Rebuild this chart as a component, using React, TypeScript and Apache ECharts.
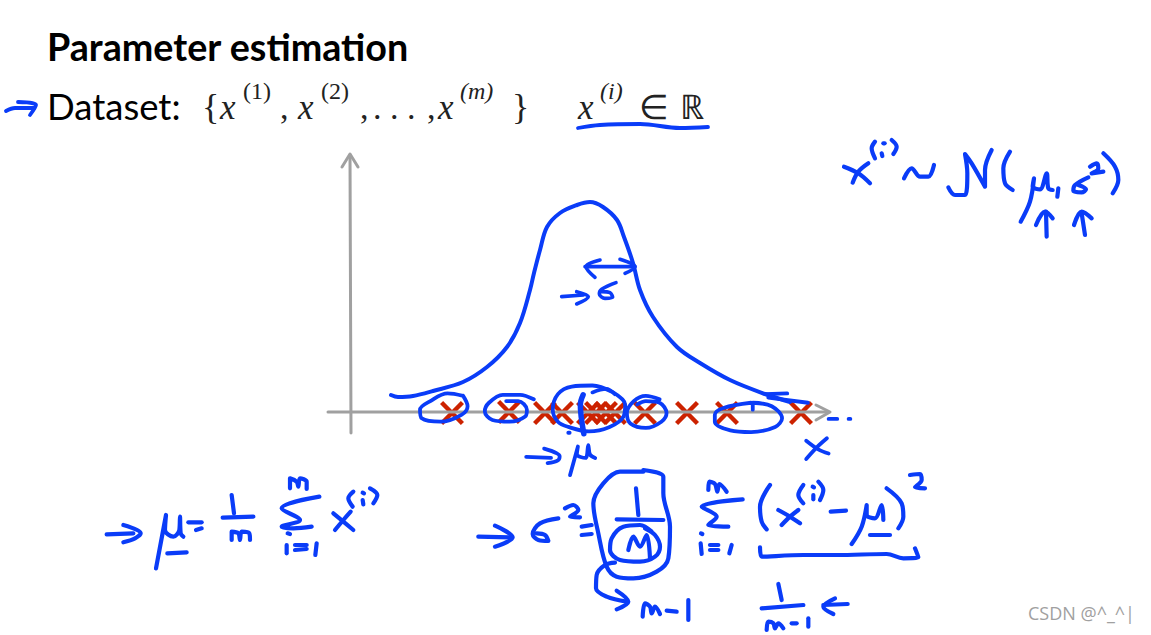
import React, { useEffect, useRef } from "react";
import * as echarts from "echarts";

const W = 1151;
const H = 635;
const BLUE = "#0a3cf8";
const GREY = "#a0a0a0";
const RED = "#cc2200";

const crossX = [452, 509, 545, 562, 588, 596, 606, 615, 645, 687, 727, 801];
const crossY = [413, 412, 413, 413, 413, 413, 413, 413, 413, 413, 413, 413];

type Flat = number[];
const map = (ox: number, oy: number, s: number, groups: Flat[]) =>
  groups.map((g) => {
    const pts: number[][] = [];
    for (let i = 0; i < g.length; i += 2) pts.push([ox + g[i] / s, oy + g[i + 1] / s]);
    return pts;
  });

const bellCurve: number[][] = [
  [391, 395], [398, 397], [413, 396], [433, 391], [463, 382], [487, 367], [507, 347], [520, 323],
  [530, 290], [534, 273], [540, 250], [547, 227], [560, 213], [577, 205], [590, 202], [603, 207],
  [617, 220], [624, 237], [633, 263], [640, 290], [653, 317], [677, 347], [700, 363], [730, 380],
  [765, 394], [790, 402],
];

const axisStrokes: number[][][] = [
  [[351, 433], [350, 155]],
  [[342, 167], [350, 154], [358, 167]],
  [[328, 412], [828, 412]],
  [[816, 405], [830, 412], [816, 420]],
];

const axisMarks = map(320, 370, 2.9, [
  [415, 75, 370, 68, 320, 90, 290, 115, 295, 140, 350, 150, 410, 130, 428, 105, 415, 75],
  [620, 85, 580, 72, 530, 72, 490, 95, 478, 120, 500, 145, 550, 150, 595, 135, 600, 115, 575, 90, 540, 90],
  [850, 65, 790, 45, 730, 48, 690, 70, 675, 115, 690, 150, 720, 165, 780, 178, 840, 165, 880, 135, 885, 100, 850, 65],
  [790, 65, 830, 55, 855, 70],
  [985, 85, 945, 75, 910, 90, 890, 125, 900, 155, 945, 168, 990, 150, 1005, 125, 985, 95, 945, 90, 920, 100],
  [1255, 115, 1255, 95, 1310, 105, 1340, 140, 1320, 165, 1250, 180, 1190, 175, 1145, 150, 1145, 130, 1170, 110, 1250, 95],
  [1290, 70, 1355, 68],
  [1300, 80, 1415, 95],
  [1475, 142, 1500, 142],
  [1533, 142, 1538, 142],
  [720, 182, 724, 182],
  [1410, 205, 1445, 230, 1475, 242],
  [1470, 198, 1440, 225, 1410, 258],
  [598, 252, 670, 255],
  [650, 228, 695, 250, 690, 262, 660, 270],
  [725, 305, 748, 222, 745, 245, 770, 255, 778, 218, 783, 245, 798, 255],
]);

const muBar = map(320, 370, 2.9, [[763, 72, 755, 100, 765, 185]]);

const sigmaMarks = map(330, 150, 3, [
  [765, 350, 915, 350],
  [810, 330, 768, 350, 795, 382],
  [870, 328, 915, 350, 885, 370],
  [695, 440, 760, 435],
  [740, 425, 775, 440, 740, 462],
  [858, 398, 815, 418, 808, 432, 825, 445, 848, 442, 840, 428, 815, 425],
]);

const normalNote = map(830, 130, 3, [
  [42, 110, 85, 130, 120, 160],
  [115, 100, 85, 125, 68, 158],
  [135, 35, 125, 55, 135, 85],
  [160, 40, 164, 40],
  [155, 70, 157, 78],
  [185, 30, 200, 50, 190, 72],
  [222, 145, 245, 115, 270, 140, 295, 140, 312, 105],
  [355, 172, 375, 195, 405, 195, 412, 130, 405, 72, 425, 100, 465, 170, 465, 120, 485, 60],
  [540, 65, 520, 115, 525, 160, 548, 180],
  [572, 275, 600, 215, 612, 145, 608, 170, 630, 178, 650, 130, 655, 175, 668, 180],
  [685, 175, 682, 200],
  [775, 142, 735, 165, 730, 182, 755, 187, 768, 178, 745, 165],
  [780, 110, 800, 100, 805, 115, 785, 130, 820, 125],
  [820, 70, 855, 110, 865, 150, 848, 190],
  [650, 320, 648, 245],
  [618, 285, 645, 245, 668, 265],
  [765, 315, 755, 250],
  [732, 285, 755, 245, 785, 265],
]);

const meanFormula = map(90, 465, 3, [
  [50, 208, 130, 205],
  [100, 180, 152, 205, 135, 220, 100, 232],
  [198, 310, 228, 150, 225, 195, 250, 215, 268, 195, 270, 155, 272, 205, 280, 215],
  [232, 265, 290, 262],
  [295, 172, 335, 172],
  [318, 195, 335, 190],
  [425, 90, 432, 145],
  [398, 158, 490, 155],
  [425, 225, 425, 200, 445, 205, 450, 225, 455, 200, 478, 205, 480, 225],
  [600, 70, 600, 40, 620, 50, 625, 65, 630, 40, 650, 50, 650, 72],
  [688, 95, 575, 130, 630, 165, 575, 185, 610, 190, 665, 185],
  [593, 205, 600, 207],
  [590, 240, 590, 265],
  [615, 240, 650, 240],
  [615, 255, 650, 252],
  [680, 235, 676, 270],
  [730, 145, 760, 170, 790, 195],
  [782, 140, 760, 165, 735, 195],
  [790, 80, 775, 100, 788, 125],
  [818, 83, 822, 85],
  [818, 105, 820, 118],
  [840, 70, 862, 90, 850, 115],
]);

const varianceFormula = map(470, 460, 3, [
  [25, 230, 120, 232],
  [75, 197, 128, 232, 75, 260],
  [265, 175, 210, 190, 188, 222, 205, 240, 235, 243, 225, 225, 200, 220],
  [285, 145, 310, 135, 325, 150, 300, 170, 330, 172],
  [335, 200, 365, 195],
  [335, 225, 365, 222],
  [520, 35, 450, 35, 400, 70, 370, 130, 385, 220, 410, 320, 440, 350, 490, 355, 560, 335, 595, 295, 600, 200, 580, 100, 580, 50, 520, 30],
  [498, 85, 505, 165],
  [440, 178, 580, 180],
  [545, 215, 510, 195, 460, 200, 425, 235, 420, 270, 450, 300, 510, 305, 555, 290, 570, 260, 555, 225, 525, 205],
  [475, 270, 490, 230, 510, 260, 530, 225, 540, 295],
  [435, 308, 405, 315, 380, 345, 378, 385, 410, 410, 470, 425],
  [440, 392, 475, 425, 440, 448],
  [518, 470, 525, 430, 540, 440, 545, 460, 555, 440, 570, 462],
  [590, 452, 620, 455],
  [655, 420, 655, 480],
  [715, 90, 718, 65, 735, 72, 742, 95, 748, 72, 770, 95],
  [818, 118, 695, 140, 740, 170, 715, 195, 775, 200],
  [693, 220, 697, 222],
  [692, 250, 695, 282],
  [720, 255, 745, 255],
  [720, 270, 745, 270],
  [785, 255, 778, 280],
  [900, 75, 870, 140, 875, 185, 890, 208],
  [925, 150, 960, 170, 990, 190],
  [985, 150, 960, 170, 935, 195],
  [1000, 75, 985, 105, 1000, 130],
  [1028, 80, 1032, 82],
  [1030, 105, 1030, 118],
  [1045, 65, 1060, 90, 1050, 120],
  [1082, 155, 1128, 152],
  [1145, 252, 1175, 200, 1190, 135, 1190, 165, 1215, 175, 1235, 135, 1240, 180],
  [1200, 225, 1260, 225],
  [1250, 85, 1295, 130, 1300, 170, 1285, 205],
  [1320, 45, 1350, 42, 1355, 60, 1335, 82, 1365, 85],
  [870, 262, 875, 290, 1000, 285, 1100, 285, 1250, 282, 1300, 295, 1345, 292, 1335, 265],
  [925, 372, 935, 420],
  [875, 445, 1000, 435],
  [890, 510, 895, 485, 910, 490, 915, 505, 925, 490, 940, 505],
  [965, 490, 980, 490],
  [1015, 475, 1015, 500],
  [1060, 435, 1133, 432],
  [1095, 415, 1060, 440, 1090, 462],
]);

const headerStrokes: number[][][] = [
  [[578, 128], [600, 125], [640, 124], [680, 128], [708, 127]],
  [[6, 111], [15, 108], [34, 108]],
  [[18, 102], [36, 105], [30, 115]],
];

const SERIF = '"Liberation Serif"';
const titleText = "Parameter estimation";
const datasetText = "Dataset:";
const watermark = "CSDN @^_^|";
const mathBig: [string, number, boolean, number][] = [
  ["{", 202, false, 36],
  ["x", 220, true, 35],
  [",", 280, false, 34],
  ["x", 298, true, 35],
  [",", 360, false, 34],
  [". . .", 373, false, 34],
  [",", 427, false, 34],
  ["x", 438, true, 35],
  ["}", 512, false, 36],
  ["x", 578, true, 35],
  ["∈", 639, false, 34],
  ["ℝ", 680, false, 34],
];
const mathSup: [string, number, boolean][] = [
  ["(1)", 243, false],
  ["(2)", 321, false],
  ["(m)", 460, true],
  ["(i)", 600, true],
];

const lineSeries = (strokes: number[][][], width: number, color = BLUE, smooth: number | boolean = 0.35) =>
  strokes.map((data) => ({
    type: "line",
    data,
    symbol: "none",
    silent: true,
    smooth,
    clip: false,
    lineStyle: { color, width, cap: "round", join: "round" },
  }));

export default function App() {
  const ref = useRef<HTMLDivElement>(null);
  useEffect(() => {
    const chart = echarts.init(ref.current!, undefined, { renderer: "svg" });
    const texts: any[] = [
      { type: "text", style: { text: titleText, x: 47, y: 46, font: 'bold 37.7px Lato', fill: "#000", textVerticalAlign: "middle" } },
      { type: "text", style: { text: datasetText, x: 47, y: 106, font: '36.5px Lato', fill: "#000", textVerticalAlign: "middle" } },
      { type: "text", style: { text: watermark, x: 1028, y: 613, font: '18px "Open Sans"', fill: "#a0a0a0", textVerticalAlign: "middle" } },
      ...mathBig.map(([text, x, italic, size]) => ({
        type: "text",
        style: { text, x, y: 107, font: `${italic ? "italic " : ""}${size}px ${SERIF}`, fill: "#222", textVerticalAlign: "middle" },
      })),
      ...mathSup.map(([text, x, italic]) => ({
        type: "text",
        style: { text, x, y: 91, font: `${italic ? "italic " : ""}24px ${SERIF}`, fill: "#222", textVerticalAlign: "middle" },
      })),
    ];
    chart.setOption({
      animation: false,
      backgroundColor: "#fff",
      grid: { left: 0, right: 0, top: 0, bottom: 0 },
      xAxis: { type: "value", min: 0, max: W, show: false },
      yAxis: { type: "value", min: 0, max: H, inverse: true, show: false },
      graphic: { elements: texts },
      series: [
        ...lineSeries(axisStrokes, 3, GREY, false),
        {
          type: "scatter",
          silent: true,
          symbol: "path://M2.6,0 L10,7.4 L17.4,0 L20,2.6 L12.6,10 L20,17.4 L17.4,20 L10,12.6 L2.6,20 L0,17.4 L7.4,10 L0,2.6 Z",
          symbolSize: 24,
          itemStyle: { color: RED, opacity: 1 },
          data: crossX.map((x, i) => [x, crossY[i]]),
        },
        ...lineSeries([bellCurve], 4),
        ...lineSeries(axisMarks, 3.8),
        ...lineSeries(muBar, 5.5),
        ...lineSeries(sigmaMarks, 3.6),
        ...lineSeries(normalNote, 4.2),
        ...lineSeries(meanFormula, 4.2),
        ...lineSeries(varianceFormula, 4.2),
        ...lineSeries(headerStrokes, 3.8),
      ],
    });
    return () => chart.dispose();
  }, []);
  return <div ref={ref} style={{ position: "absolute", left: 0, top: 0, width: W, height: H }} />;
}
